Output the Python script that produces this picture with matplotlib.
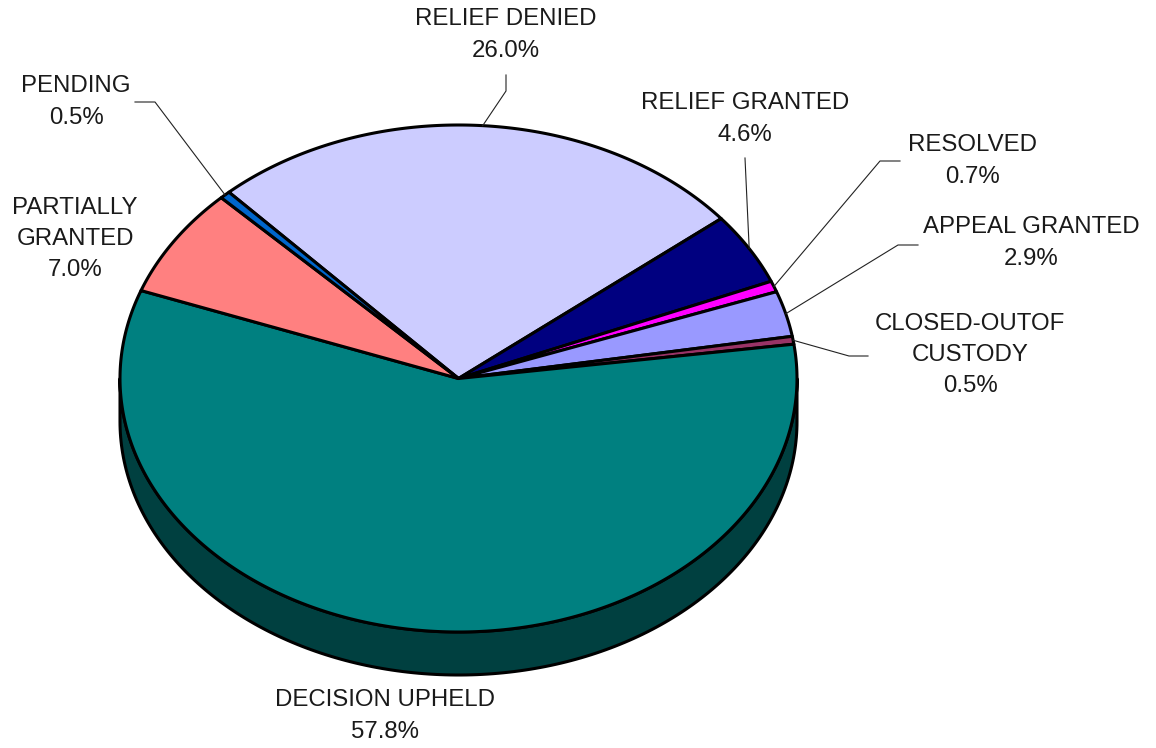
import numpy as np
import matplotlib
matplotlib.use("Agg")
import matplotlib.pyplot as plt
from matplotlib.patches import Polygon


# slices in clockwise order, starting from the top-left edge of "relief denied"
LABELS = [
    "RELIEF DENIED",
    "RELIEF GRANTED",
    "RESOLVED",
    "APPEAL GRANTED",
    "CLOSED-OUTOF\nCUSTODY",
    "DECISION UPHELD",
    "PARTIALLY\nGRANTED",
    "PENDING",
]
PERCENTS = [26.0, 4.6, 0.7, 2.9, 0.5, 57.8, 7.0, 0.5]
COLORS = [
    "#CCCCFF",
    "#000080",
    "#FF00FF",
    "#9999FF",
    "#993366",
    "#008080",
    "#FF8080",
    "#0066CC",
]

# pie layout (pixel space)
CX, CY = 458.5, 378.5
RX, RY = 338.5, 253.5
DEPTH = 43
START = 132.7  # parametric angle of the first slice edge, degrees

# label centre, leader elbow, leader end (None = no leader)
LABEL_POS = [
    (506, 35, (506, 91), (506, 75)),
    (745, 119, (745, 158), (745, 158)),
    (973, 161, (880, 161), (900, 161)),
    (1031, 243, (898, 245), (918, 245)),
    (970, 355, (849, 356), (868, 356)),
    (385, 716, None, None),
    (75, 239, None, None),
    (76, 102, (155, 102), (135, 102)),
]

FONT = ["Liberation Sans", "DejaVu Sans"]
TEXT_COLOR = "#1a1a1a"


def rim(t_deg, dy=0.0):
    t = np.radians(t_deg)
    return CX + RX * np.cos(t), CY - RY * np.sin(t) + dy


def darker(color, f=0.5):
    r, g, b = matplotlib.colors.to_rgb(color)
    return (r * f, g * f, b * f)


fig = plt.figure(figsize=(11.56, 7.48), dpi=100)
ax = fig.add_axes([0, 0, 1, 1])
ax.set_xlim(0, 1156)
ax.set_ylim(748, 0)
ax.axis("off")

# slice angle ranges (clockwise, angles decreasing)
spans = []
a = START
for p in PERCENTS:
    sweep = p / 100 * 360
    spans.append((a, a - sweep))
    a -= sweep

# side wall: only the part of each slice on the front half (180..360)
for (a0, a1), col in zip(spans, COLORS):
    for shift in (-360, 0, 360):
        lo = max(a1 + shift, 180)
        hi = min(a0 + shift, 360)
        if hi > lo:
            ts = np.linspace(lo, hi, 200)
            xs, ys = rim(ts)
            xb, yb = rim(ts[::-1], DEPTH)
            pts = np.column_stack([np.r_[xs, xb], np.r_[ys, yb]])
            ax.add_patch(Polygon(pts, closed=True, facecolor=darker(col, 0.5),
                                 edgecolor="black", lw=2.2, joinstyle="round",
                                 zorder=1))

# top faces
for (a0, a1), col in zip(spans, COLORS):
    n = max(int(abs(a0 - a1) * 3), 4)
    ts = np.linspace(a0, a1, n)
    xs, ys = rim(ts)
    pts = np.column_stack([np.r_[CX, xs], np.r_[CY, ys]])
    ax.add_patch(Polygon(pts, closed=True, facecolor=col, edgecolor="black",
                         lw=2.2, joinstyle="round", zorder=2))

# labels and leader lines
for (a0, a1), lab, pct, (lx, ly, elbow, end) in zip(spans, LABELS, PERCENTS,
                                                     LABEL_POS):
    ax.text(lx, ly, f"{lab}\n{pct:.1f}%", ha="center", va="center",
            fontsize=17.3, family=FONT, color=TEXT_COLOR, linespacing=1.55,
            zorder=4)
    if elbow is not None:
        sx, sy = rim((a0 + a1) / 2)
        ax.plot([sx, elbow[0], end[0]], [sy, elbow[1], end[1]],
                color="#222222", lw=0.8, zorder=3)

fig.savefig("out.png", dpi=100)
